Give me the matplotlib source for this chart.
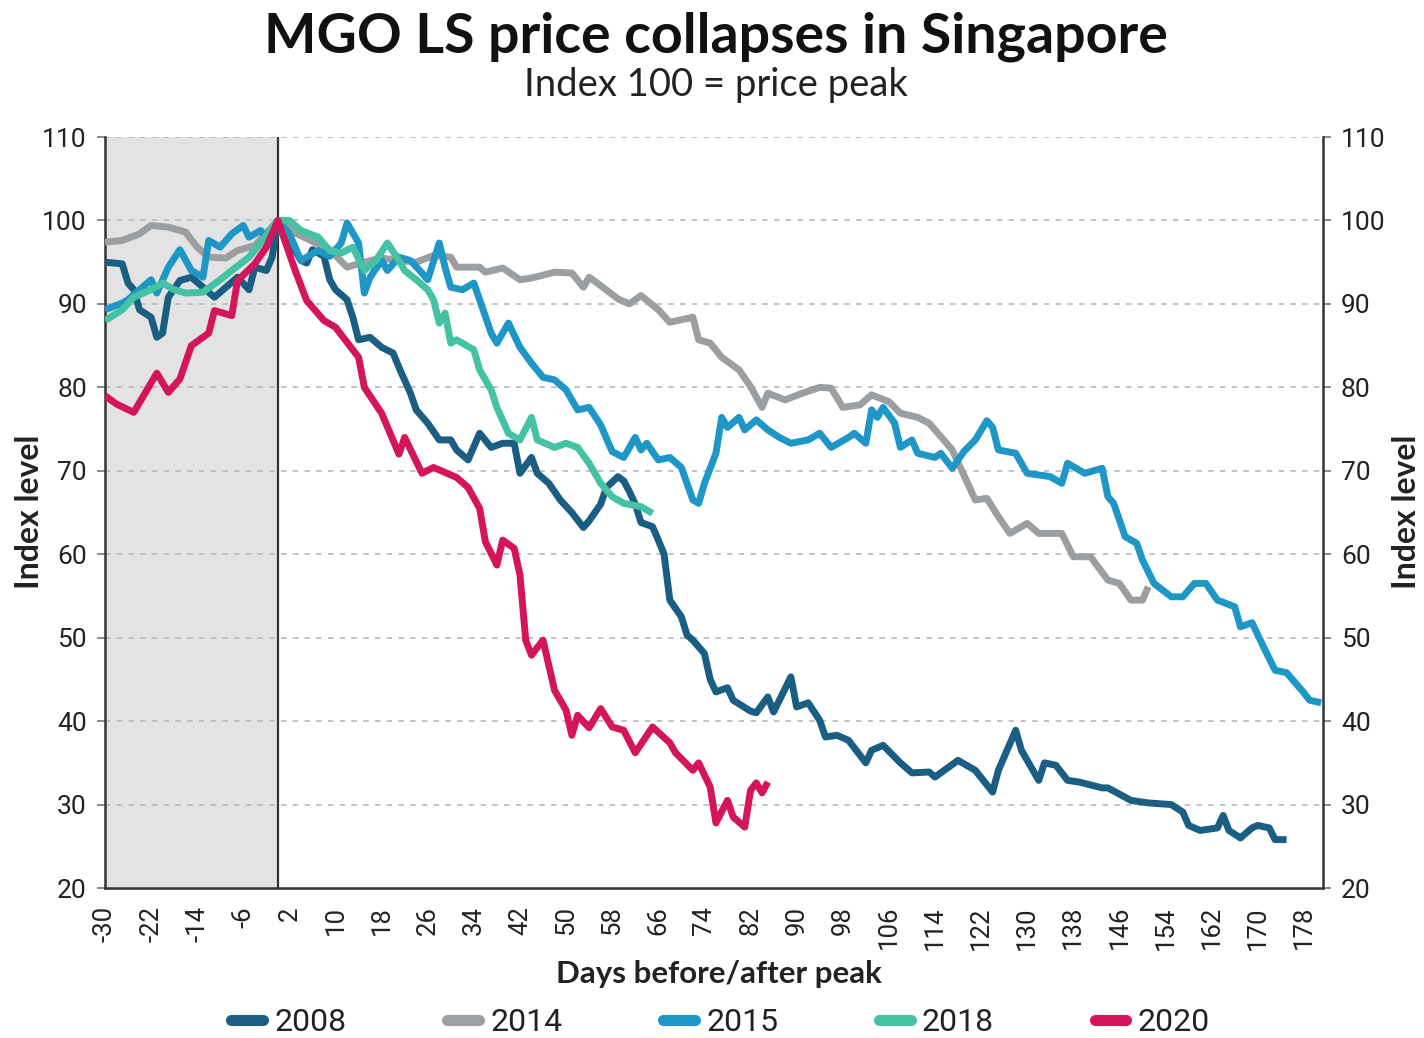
import matplotlib.pyplot as plt
from matplotlib.lines import Line2D

# --- data (day relative to price peak, index level) ---
days_2008 = [-30, -27, -26, -25, -24, -22, -21, -20, -19, -17, -15, -13, -11, -9, -7, -5, -4, -2, -1, 0,
             4, 5, 6, 8, 9, 10, 12, 13, 14, 16, 18, 20, 21, 23, 24, 26, 28, 30, 31, 33, 35, 37, 39, 41,
             42, 44, 45, 47, 49, 51, 53, 54, 56, 57, 59, 60, 61, 62, 63, 65, 66, 67, 68, 70, 71, 72, 74,
             75, 76, 78, 79, 82, 83, 85, 86, 89, 90, 92, 94, 95, 97, 99, 102, 103, 105, 108, 110, 113,
             114, 118, 121, 124, 125, 128, 129, 132, 133, 135, 137, 139, 143, 144, 148, 151, 155, 157,
             158, 160, 163, 164, 165, 167, 169, 170, 172, 173, 175]
vals_2008 = [95, 94.8, 92.5, 91.7, 89.3, 88.4, 86, 86.5, 90.8, 92.8, 93.2, 92, 90.8, 92, 93.2, 91.7, 94.4, 94, 95.6, 100,
             95.2, 94.9, 96.5, 95.7, 92.9, 91.7, 90.5, 88.4, 85.7, 86, 84.8, 84.1, 82.4, 79.3, 77.3, 75.7, 73.7, 73.7, 72.5, 71.3, 74.5, 72.8, 73.3, 73.3,
             69.7, 71.6, 69.7, 68.5, 66.5, 65, 63.2, 64, 66, 68, 69.3, 68.8, 67.5, 66, 63.8, 63.3, 61.7, 60, 54.5, 52.5, 50.3, 49.7, 48.1,
             45, 43.5, 44, 42.5, 41.2, 41, 42.9, 41.1, 45.3, 41.7, 42.2, 40.1, 38.1, 38.3, 37.7, 35, 36.5, 37.1, 35, 33.8, 33.9,
             33.3, 35.3, 34.1, 31.5, 34.1, 38.9, 36.5, 32.9, 35, 34.7, 32.9, 32.7, 32, 32, 30.5, 30.2, 30, 29.1,
             27.5, 26.9, 27.2, 28.7, 26.9, 26, 27.2, 27.5, 27.2, 25.8, 25.8]

days_2014 = [-30, -27, -24, -22, -19, -16, -14, -12, -9, -7, -4, -2, 0, 3, 6, 9, 12, 15, 18, 21, 24, 27, 30,
             31, 35, 36, 39, 42, 44, 48, 51, 53, 54, 56, 59, 61, 63, 66, 68, 72, 73, 75, 77, 80, 81, 82,
             84, 85, 88, 91, 94, 96, 98, 101, 103, 106, 108, 111, 113, 117, 119, 121, 123, 125, 127, 130,
             132, 136, 138, 141, 144, 146, 148, 150, 151]
vals_2014 = [97.4, 97.6, 98.4, 99.4, 99.2, 98.6, 96.8, 95.6, 95.5, 96.4, 97, 98.5, 100, 98.5, 97.5, 96.5, 94.4, 95, 95.5, 95.2, 95, 95.8, 95.6,
             94.4, 94.4, 93.8, 94.3, 92.9, 93.1, 93.8, 93.7, 92, 93.2, 92.2, 90.6, 90, 91, 89.3, 87.8, 88.4, 85.7, 85.3, 83.6, 82.1, 81.1, 80.1,
             77.6, 79.3, 78.5, 79.3, 80, 79.9, 77.6, 77.9, 79.1, 78.3, 76.9, 76.4, 75.7, 72.5, 69.5, 66.5, 66.7, 64.5, 62.5, 63.7,
             62.5, 62.5, 59.7, 59.7, 56.9, 56.5, 54.5, 54.5, 56.1]

days_2015 = [-30, -27, -26, -24, -22, -21, -19, -17, -15, -13, -12, -10, -8, -6, -5, -3, -2, 0, 2, 4, 7, 9, 11, 12,
             14, 15, 16, 18, 19, 21, 23, 25, 26, 28, 29, 30, 32, 34, 37, 38, 40, 42, 44, 46, 48, 50, 52, 54,
             56, 58, 60, 62, 63, 64, 66, 68, 70, 72, 73, 74, 76, 77, 78, 80, 81, 83, 85, 87, 89, 92, 94, 96,
             99, 100, 102, 103, 104, 105, 107, 108, 110, 111, 114, 115, 117, 119, 121, 123, 124, 125, 128,
             130, 134, 136, 137, 140, 143, 144, 145, 147, 149, 150, 152, 155, 157, 159, 161, 163, 166, 167,
             169, 171, 173, 175, 178, 179, 181]
vals_2015 = [89.3, 90.1, 90.5, 91.7, 92.9, 91.3, 94.4, 96.5, 94, 93.2, 97.6, 96.8, 98.4, 99.4, 98, 98.8, 98, 100, 98.4, 95.2, 96.4, 95.7, 97.3, 99.7,
             97.3, 91.3, 93.2, 95.2, 94, 95.6, 95.2, 93.7, 92.9, 97.3, 94.4, 92, 91.7, 92.5, 86.5, 85.3, 87.7, 84.8, 82.9, 81.2, 80.9, 79.7, 77.3, 77.6,
             75.5, 72.3, 71.6, 74, 72.5, 73.3, 71.3, 71.6, 70.4, 66.5, 66.1, 68.5, 72.1, 76.4, 75.2, 76.4, 74.9, 76.1, 74.9, 74, 73.3, 73.7, 74.5, 72.8,
             74, 74.5, 73.3, 77.3, 76.4, 77.6, 75.7, 72.8, 73.7, 72.1, 71.6, 72.1, 70.3, 72.3, 73.7, 76, 75.2, 72.5, 72.1,
             69.7, 69.3, 68.5, 70.9, 69.7, 70.3, 66.9, 66.1, 62.1, 61.3, 59.3, 56.5, 54.9, 54.9, 56.5, 56.5, 54.5, 53.7, 51.3,
             51.8, 48.9, 46.1, 45.8, 43.4, 42.5, 42.2]

days_2018 = [-30, -27, -25, -22, -20, -18, -16, -13, -10, -8, -5, -3, 0, 2, 4, 7, 9, 11, 13, 15, 17, 19, 21, 22,
             24, 26, 27, 28, 29, 30, 31, 34, 35, 37, 38, 40, 42, 44, 45, 48, 50, 52, 54, 56, 58, 60, 63, 65]
vals_2018 = [88, 89.3, 90.8, 91.7, 92.5, 91.7, 91.3, 91.4, 92.9, 94, 95.6, 97.3, 100, 100, 98.8, 98, 96.4, 96.1, 96.8, 94, 95.2, 97.3, 95.2, 94,
             92.9, 91.7, 90.5, 87.7, 88.9, 85.3, 85.7, 84.5, 82.1, 79.7, 77.6, 74.5, 73.7, 76.4, 73.7, 72.8, 73.3, 72.8, 70.9, 68.5, 66.9, 66.1, 65.7, 64.9]

days_2020 = [-30, -28, -25, -21, -19, -17, -15, -12, -11, -8, -7, -4, -2, 0, 3, 5, 8, 10, 14, 15, 18, 21, 22, 25,
             27, 31, 33, 35, 36, 38, 39, 41, 42, 43, 44, 46, 47, 48, 50, 51, 52, 54, 56, 58, 60, 62, 65, 68,
             69, 72, 73, 75, 76, 78, 79, 81, 82, 83, 84, 85]
vals_2020 = [79, 78, 77, 81.7, 79.4, 81, 85, 86.5, 89.2, 88.6, 92.8, 94.8, 96.8, 100, 94, 90.4, 88, 87.2, 83.6, 80, 76.9, 72, 74, 69.7,
             70.4, 69.2, 68, 65.5, 61.5, 58.7, 61.7, 60.7, 57.5, 49.7, 47.9, 49.7, 46.7, 43.7, 41.3, 38.3, 40.7, 39.2, 41.5, 39.3, 38.9, 36.2, 39.3, 37.4,
             36.2, 34.1, 35, 32.1, 27.8, 30.5, 28.5, 27.3, 31.7, 32.6, 31.4, 32.7]

years = ['2008', '2014', '2015', '2018', '2020']
colors = ['#1b5e83', '#9c9fa1', '#1e97c6', '#43c2a4', '#d5155b']
tick_days = list(range(-30, 179, 8))
y_ticks = [20, 30, 40, 50, 60, 70, 80, 90, 100, 110]

series = [(days_2008, vals_2008), (days_2014, vals_2014), (days_2015, vals_2015),
          (days_2018, vals_2018), (days_2020, vals_2020)]

fig = plt.figure(figsize=(14.24, 10.38), dpi=100)
ax = fig.add_axes([0.0737, 0.1445, 0.8553, 0.7235])

# shaded pre-peak window and peak marker
ax.axvspan(-30, 0, color='#e3e3e3', zorder=0, lw=0)
ax.axvline(0, color='#333333', lw=1.6, zorder=1)

for y in y_ticks[1:]:
    ax.axhline(y, color='#bdbdbd', lw=1.3, ls=(0, (3, 3.5)), zorder=0.5)

for (d, v), c in zip(series, colors):
    ax.plot(d, v, color=c, lw=5, solid_joinstyle='round', solid_capstyle='butt', zorder=3)

ax.set_xlim(-30, 181.3)
ax.set_ylim(20, 110)
ax.set_xticks(tick_days)
ax.set_xticklabels([str(t) for t in tick_days], rotation=90, fontsize=18.5,
                   family='Roboto', color='#222222')
ax.set_yticks(y_ticks)
ax.tick_params(axis='x', length=0, pad=13)
ax.tick_params(axis='y', which='both', left=True, right=True, labelleft=True, labelright=True,
               direction='out', length=6, width=1.2, color='#777777', labelsize=19,
               labelcolor='#222222', pad=7)
for lab in ax.get_yticklabels():
    lab.set_family('Roboto')

for side in ['left', 'right', 'bottom']:
    ax.spines[side].set_color('#333333')
    ax.spines[side].set_linewidth(1.8)
ax.spines['top'].set_visible(False)

# titles and axis labels
fig.text(0.503, 0.965, 'MGO LS price collapses in Singapore', ha='center', va='center',
         fontsize=40, fontweight='bold', family='Lato', color='#111111')
fig.text(0.503, 0.918, 'Index 100 = price peak', ha='center', va='center',
         fontsize=27.5, family='Lato', color='#222222')
fig.text(0.505, 0.062, 'Days before/after peak', ha='center', va='center',
         fontsize=22.5, fontweight='bold', family='Lato', color='#222222')
fig.text(0.021, 0.507, 'Index level', ha='center', va='center', rotation=90,
         fontsize=23, fontweight='bold', family='Lato', color='#222222')
fig.text(0.988, 0.507, 'Index level', ha='center', va='center', rotation=90,
         fontsize=23, fontweight='bold', family='Lato', color='#222222')

handles = [Line2D([0], [0], color=c, lw=8, solid_capstyle='round') for c in colors]
fig.legend(handles, years, loc='center', bbox_to_anchor=(0.506, 0.015), ncol=5, frameon=False,
           prop={'family': 'Roboto', 'size': 23}, handlelength=1.0, handletextpad=0.35,
           columnspacing=3.15, labelcolor='#222222')

fig.savefig('out.png', dpi=100, facecolor='white')
